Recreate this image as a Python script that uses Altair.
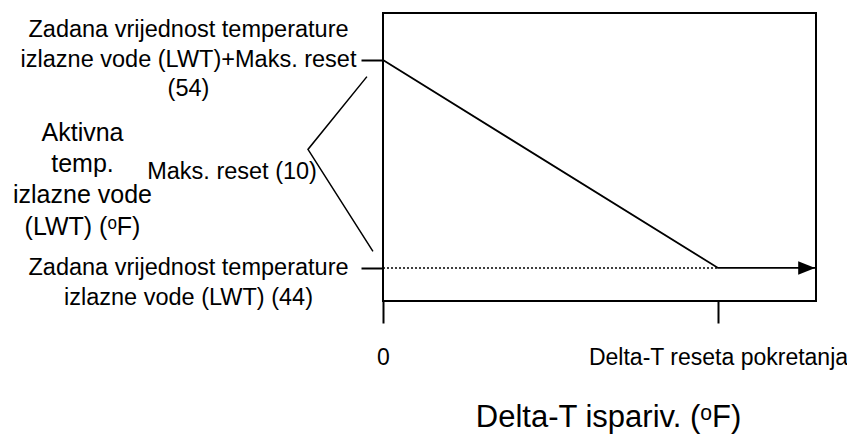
import json
import altair as alt
import pandas as pd

# ---- data -------------------------------------------------------------
delta_t = [0, 10, 12.9]           # evaporator delta-T (schematic units)
lwt = [54, 44, 44]                # active leaving water temperature (F)
setpoint_dt = [0, 10]
setpoint_lwt = [44, 44]
arrow_dt = [12.9]
arrow_lwt = [44]
bracket_dt = [-0.48, -2.24, -0.30]
bracket_lwt = [53.2, 49.7, 44.8]
y_ticks = [44, 54]
y_tick_labels = [
    ["Zadana vrijednost temperature", "izlazne vode (LWT) (44)"],
    ["Zadana vrijednost temperature", "izlazne vode (LWT)+Maks. reset", "(54)"],
]
x_ticks = [0, 10]
x_tick_labels = ["0", "Delta-T reseta pokretanja"]
y_title = ["Aktivna", "temp.", "izlazne vode", "(LWT) (\u1d52F)"]
x_title = "Delta-T ispariv. (\u1d52F)"
max_reset_label = ["Maks. reset (10)"]

FONT = "Liberation Sans"
X_DOM = [0, 12.925]
Y_DOM = [42.41, 56.26]

line_df = pd.DataFrame({"dt": delta_t, "lwt": lwt})
sp_df = pd.DataFrame({"dt": setpoint_dt, "lwt": setpoint_lwt})
arrow_df = pd.DataFrame({"dt": arrow_dt, "lwt": arrow_lwt})
br_df = pd.DataFrame({"dt": bracket_dt, "lwt": bracket_lwt, "i": range(len(bracket_dt))})
txt_df = pd.DataFrame({"dt": [bracket_dt[1]], "lwt": [bracket_lwt[1]], "t": max_reset_label})

x_label_expr = " : ".join(
    f"datum.value == {v} ? {json.dumps(l)}" for v, l in zip(x_ticks[:-1], x_tick_labels[:-1])
) + f" : {json.dumps(x_tick_labels[-1])}"
y_label_expr = f"datum.value == {y_ticks[1]} ? {json.dumps(y_tick_labels[1])} : {json.dumps(y_tick_labels[0])}"

x_scale = alt.Scale(domain=X_DOM, nice=False, zero=False)
y_scale = alt.Scale(domain=Y_DOM, nice=False, zero=False)

x_axis = alt.Axis(
    values=x_ticks, labelExpr=x_label_expr, title=x_title, grid=False, domain=False,
    tickSize=22, tickWidth=2, tickColor="black", labelFontSize=23, labelFont=FONT,
    labelColor="black", labelPadding=23, labelFlush=False, labelAngle=0,
    labelBaseline="top", labelLimit=1000, labelOverlap=False,
    titleFontSize=31, titleFont=FONT, titleFontWeight="normal", titleColor="black",
    titleX=225, titleY=101, titleBaseline="top", titleAlign="center",
)
y_axis = alt.Axis(
    values=y_ticks, labelExpr=y_label_expr, title=y_title, grid=False, domain=False,
    tickSize=22, tickWidth=2, tickColor="black", labelFontSize=23.5, labelFont=FONT,
    labelColor="black", labelAlign="center", labelBaseline="middle", labelPadding=173,
    labelLineHeight=29.5, labelLimit=1000, labelOverlap=False,
    labelOffset={"condition": {"test": f"datum.value == {y_ticks[1]}", "value": -30}, "value": 0},
    titleAngle=0, titleAlign="center", titleBaseline="middle", titleX=-301, titleY=119,
    titleFontSize=25, titleFont=FONT, titleFontWeight="normal", titleColor="black",
    titleLineHeight=31.4,
)

X = alt.X("dt:Q", scale=x_scale, axis=x_axis)
Y = alt.Y("lwt:Q", scale=y_scale, axis=y_axis)

main = alt.Chart(line_df).mark_line(color="black", strokeWidth=1.8).encode(x=X, y=Y)
dotted = alt.Chart(sp_df).mark_line(color="black", strokeWidth=1.5, strokeDash=[2, 2]).encode(x=X, y=Y)
arrow = alt.Chart(arrow_df).mark_point(
    shape="M 0 0 L -2 -0.8 L -2 0.8 Z", filled=True, size=289, color="black", opacity=1
).encode(x=X, y=Y)
bracket = alt.Chart(br_df).mark_line(color="black", strokeWidth=1.5, clip=False).encode(
    x=X, y=Y, order=alt.Order("i:Q"),
)
txt = alt.Chart(txt_df).mark_text(
    align="right", baseline="alphabetic", dx=9, dy=30, fontSize=23.5, font=FONT, color="black"
).encode(x=X, y=Y, text="t:N")

chart = alt.layer(main, dotted, arrow, bracket, txt).properties(
    width=433, height=288,
    autosize=alt.AutoSizeParams(type="none"),
    padding={"left": 375, "top": 5, "right": 31, "bottom": 136},
    background="white",
).configure_view(stroke="black", strokeWidth=2)

chart.save("out.html", embed_options={"renderer": "svg", "actions": False})
